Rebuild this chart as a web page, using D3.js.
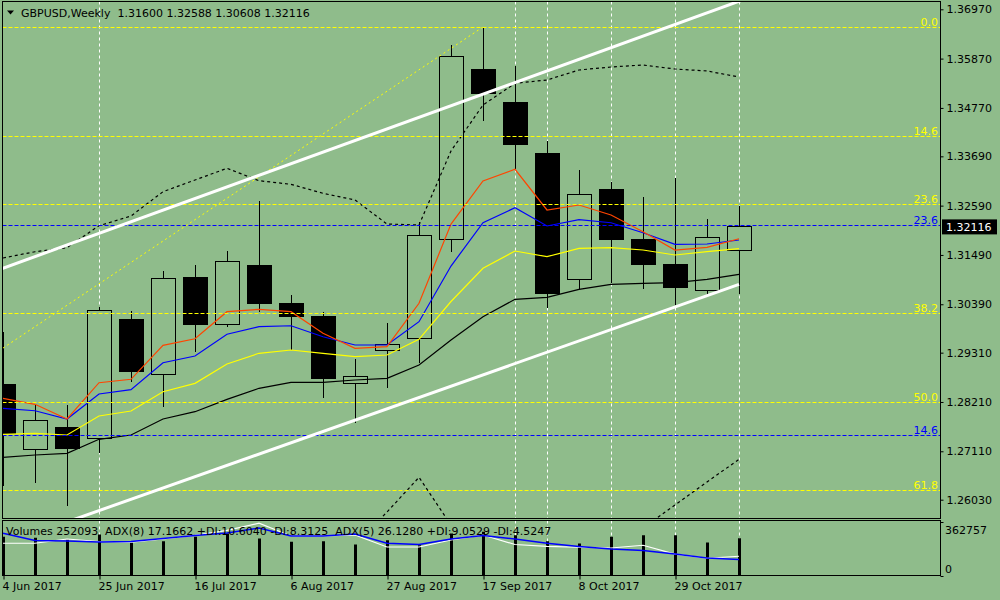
<!DOCTYPE html>
<html>
<head>
<meta charset="utf-8">
<script src="https://cdn.jsdelivr.net/npm/d3@7"></script>
<style>
  body { margin: 0; background: #8fbc8b; }
  svg { display: block; font-family: "DejaVu Sans", sans-serif; font-size: 11px; }
</style>
</head>
<body>
<svg id="chart" width="1000" height="600"></svg>
<script>
// GBPUSD weekly bars, week starting dates
const weeks = ['4 Jun', '11 Jun', '18 Jun', '25 Jun', '2 Jul', '9 Jul', '16 Jul', '23 Jul', '30 Jul', '6 Aug',
  '13 Aug', '20 Aug', '27 Aug', '3 Sep', '10 Sep', '17 Sep', '24 Sep', '1 Oct', '8 Oct', '15 Oct', '22 Oct',
  '29 Oct', '5 Nov', '12 Nov'];
const opens = [1.28611, 1.27154, 1.27645, 1.27400, 1.30061, 1.28827, 1.30998, 1.29943, 1.31244, 1.30418, 1.30128,
  1.28626, 1.29363, 1.29631, 1.31839, 1.35638, 1.34902, 1.33742, 1.30953, 1.32955, 1.31839, 1.31288, 1.30701, 1.31600];
const highs = [1.29772, 1.28145, 1.28145, 1.30329, 1.30240, 1.31132, 1.31266, 1.31578, 1.32693, 1.30597, 1.30210,
  1.29169, 1.29965, 1.32232, 1.36173, 1.36546, 1.35705, 1.34032, 1.33385, 1.33111, 1.32790, 1.33207, 1.32292, 1.32588];
const lows = [1.26336, 1.26404, 1.25896, 1.27065, 1.28662, 1.28105, 1.29332, 1.29889, 1.30224, 1.29370, 1.28306,
  1.27734, 1.28529, 1.29086, 1.31549, 1.34485, 1.33403, 1.30300, 1.30730, 1.30870, 1.30723, 1.30375, 1.30581, 1.30608];
const closes = [1.27496, 1.27801, 1.27168, 1.30255, 1.28885, 1.30969, 1.29934, 1.31348, 1.30403, 1.30112, 1.28729,
  1.28783, 1.29497, 1.31928, 1.35928, 1.35087, 1.33950, 1.30634, 1.32843, 1.31839, 1.31272, 1.30759, 1.31884, 1.32116];

// moving averages (fast -> slow)
const maRed = [1.28292, 1.28158, 1.27830, 1.28640, 1.28716, 1.29474, 1.29621, 1.30224, 1.30277, 1.30224, 1.29742,
  1.29407, 1.29443, 1.30411, 1.32180, 1.33140, 1.33401, 1.32493, 1.32604, 1.32381, 1.32009, 1.31600, 1.31660, 1.31852];
const maBlue = [1.28069, 1.28015, 1.27830, 1.28388, 1.28484, 1.29086, 1.29235, 1.29720, 1.29889, 1.29911, 1.29666,
  1.29481, 1.29481, 1.30001, 1.31243, 1.32209, 1.32544, 1.32136, 1.32276, 1.32209, 1.31986, 1.31727, 1.31734, 1.31823];
const maYellow = [1.27489, 1.27511, 1.27473, 1.27897, 1.28008, 1.28439, 1.28626, 1.29057, 1.29296, 1.29369, 1.29296,
  1.29220, 1.29258, 1.29608, 1.30451, 1.31192, 1.31578, 1.31451, 1.31638, 1.31652, 1.31600, 1.31489, 1.31562, 1.31629];
const maBlack = [1.26976, 1.27027, 1.27065, 1.27377, 1.27473, 1.27830, 1.27993, 1.28269, 1.28515, 1.28649, 1.28649,
  1.28700, 1.28738, 1.29035, 1.29592, 1.30112, 1.30500, 1.30545, 1.30723, 1.30835, 1.30857, 1.30871, 1.30947, 1.31058];
// envelope / band (dashed black)
const bandUpper = [1.31422, 1.31562, 1.31652, 1.32142, 1.32359, 1.32901, 1.33162, 1.33423, 1.33146, 1.33066, 1.32865,
  1.32716, 1.32180, 1.32158, 1.33809, 1.34835, 1.35319, 1.35393, 1.35616, 1.35683, 1.35727, 1.35638, 1.35594, 1.35460];
const bandLower = [1.22900, 1.23123, 1.23346, 1.22900, 1.22900, 1.23123, 1.23123, 1.23346, 1.24015, 1.24350, 1.24640,
  1.25019, 1.25755, 1.26529, 1.25465, 1.25019, 1.24684, 1.24684, 1.24796, 1.25019, 1.25398, 1.25911, 1.26425, 1.26931];

// sub window
const volumes = [261000, 255000, 245000, 277000, 223000, 232000, 261000, 284000, 250000, 228000, 232000, 209000,
  238000, 205000, 284000, 295000, 272000, 232000, 216000, 261000, 272000, 272000, 223000, 252093];
const adxBlue = [38.4, 31.8, 31.4, 30.5, 30.9, 33.6, 36.4, 38.6, 43.2, 35.9, 35.9, 37.7, 29.3, 28.2, 33.2, 36.4,
  33.2, 29.3, 26.4, 24.1, 22.7, 19.5, 15.9, 14.5];
const adxWhite = [29.3, 29.3, 33.2, 30.9, 30.3, 33.2, 36.4, 41.1, 47.5, 35.9, 35.9, 36.8, 25.9, 25.9, 32.3, 36.8,
  28.2, 26.4, 25.7, 25.0, 27.5, 19.4, 15.7, 17.5];

// chart objects
const fibLevels = [0, 14.6, 23.6, 38.2, 50, 61.8, 76.4, 100];
const fibYellowAnchor = [1.36575, 1.19863];   // 0% -> 100%
const fibYellowIdx = [15, -20];
const fibBlueAnchor = [1.19863, 1.71915];
const channelUpper = [[0, 1.31194], [18, 1.35855]];
const channelLower = [[2, 1.25534], [23, 1.30835]];
const markerIdx = [3, 16, 17, 19, 21, 23];

const priceTicks = [1.36970, 1.35870, 1.34770, 1.33690, 1.32590, 1.31490, 1.30390, 1.29310, 1.28210, 1.27110, 1.26030];
const dateTicks = [0, 3, 6, 9, 12, 15, 18, 21];
const volMax = 362757;
const lastPrice = 1.32116;
const headerText = 'GBPUSD,Weekly  1.31600 1.32588 1.30608 1.32116';
const subText = 'Volumes 252093  ADX(8) 17.1662 +DI:10.6040 -DI:8.3125  ADX(5) 26.1280 +DI:9.0529 -DI:4.5247';

const d3 = window.d3;
const svg = d3.select('#chart');
const L = 2.5, R = 940.5, mainTop = 1.5, mainBot = 518.5, volTop = 520.5, volBot = 575.5;

const x = d3.scaleLinear().domain([0, 23]).range([3, 739]);
const y = d3.scaleLinear().domain([1.26030, 1.36970]).range([499.7, 9.3]);
const yv = d3.scaleLinear().domain([0, volMax]).range([volBot, 521.8]);
const ya = d3.scaleLinear().domain([0, 50]).range([volBot, volTop]);
const px = (v) => Math.round(v) + 0.5;

svg.append('rect').attr('width', 1000).attr('height', 600).attr('fill', '#8fbc8b');

const defs = svg.append('defs');
defs.append('clipPath').attr('id', 'clipMain')
  .append('rect').attr('x', L).attr('y', mainTop).attr('width', R - L).attr('height', mainBot - mainTop);
defs.append('clipPath').attr('id', 'clipVol')
  .append('rect').attr('x', L).attr('y', volTop).attr('width', R - L).attr('height', volBot - volTop);

const gMain = svg.append('g').attr('clip-path', 'url(#clipMain)');
const gVol = svg.append('g').attr('clip-path', 'url(#clipVol)');

// vertical dashed markers across both windows
markerIdx.forEach((i) => {
  [[gMain, mainTop, mainBot], [gVol, volTop, volBot]].forEach(([g, t, b]) => {
    g.append('line')
      .attr('x1', px(x(i))).attr('x2', px(x(i))).attr('y1', t).attr('y2', b)
      .attr('stroke', '#fff').attr('stroke-dasharray', '3,3');
  });
});

// candles
const bars = d3.range(weeks.length);
const candle = gMain.selectAll('g.candle').data(bars).join('g').attr('class', 'candle')
  .attr('shape-rendering', 'crispEdges');
candle.append('line')
  .attr('x1', (i) => px(x(i))).attr('x2', (i) => px(x(i)))
  .attr('y1', (i) => y(highs[i])).attr('y2', (i) => y(lows[i]))
  .attr('stroke', '#000');
candle.append('rect')
  .attr('x', (i) => px(x(i)) - 12)
  .attr('width', 24)
  .attr('y', (i) => y(Math.max(opens[i], closes[i])))
  .attr('height', (i) => Math.max(1, Math.abs(y(opens[i]) - y(closes[i]))))
  .attr('fill', (i) => (closes[i] >= opens[i] ? '#8fbc8b' : '#000'))
  .attr('stroke', '#000');

// indicator lines
const line = d3.line().x((d, i) => x(i)).y((d) => y(d));
[[bandUpper, '#000', '3,3'], [bandLower, '#000', '3,3'], [maBlack, '#000', null], [maYellow, '#ffff00', null],
  [maBlue, '#0000ff', null], [maRed, '#ff4500', null]].forEach(([arr, col, dash]) => {
  gMain.append('path').datum(arr).attr('d', line)
    .attr('fill', 'none').attr('stroke', col).attr('stroke-width', 1.2)
    .attr('stroke-dasharray', dash);
});

// fibonacci levels
function drawFib(anchor, colour) {
  fibLevels.forEach((lv) => {
    const p = anchor[0] + (lv / 100) * (anchor[1] - anchor[0]);
    const yy = y(p);
    if (yy < mainTop || yy > mainBot) return;
    gMain.append('line')
      .attr('x1', L).attr('x2', R).attr('y1', px(yy)).attr('y2', px(yy))
      .attr('stroke', colour).attr('stroke-dasharray', '4,2');
    svg.append('text')
      .attr('x', 938).attr('y', px(yy) - 2)
      .attr('text-anchor', 'end').attr('fill', colour)
      .text(lv.toFixed(1));
  });
}
drawFib(fibYellowAnchor, '#ffff00');
drawFib(fibBlueAnchor, '#0000ff');

gMain.append('line')
  .attr('x1', x(fibYellowIdx[1])).attr('y1', y(fibYellowAnchor[1]))
  .attr('x2', x(fibYellowIdx[0])).attr('y2', y(fibYellowAnchor[0]))
  .attr('stroke', '#ffff00').attr('stroke-dasharray', '2,3');

// channel lines (upper one is a ray to the right)
function extend(pts, i) {
  const [[i0, p0], [i1, p1]] = pts;
  return p0 + ((p1 - p0) * (i - i0)) / (i1 - i0);
}
gMain.append('line')
  .attr('x1', x(-2)).attr('y1', y(extend(channelUpper, -2)))
  .attr('x2', x(30)).attr('y2', y(extend(channelUpper, 30)))
  .attr('stroke', '#fff').attr('stroke-width', 3);
gMain.append('line')
  .attr('x1', x(-2)).attr('y1', y(extend(channelLower, -2)))
  .attr('x2', x(channelLower[1][0])).attr('y2', y(channelLower[1][1]))
  .attr('stroke', '#fff').attr('stroke-width', 3);

// sub window: volumes + ADX
gVol.selectAll('line.vol').data(bars).join('line').attr('class', 'vol')
  .attr('x1', (i) => px(x(i))).attr('x2', (i) => px(x(i)))
  .attr('y1', yv(0)).attr('y2', (i) => yv(volumes[i]))
  .attr('stroke', '#000').attr('stroke-width', 3);
const aLine = d3.line().x((d, i) => x(i)).y((d) => ya(d));
gVol.append('path').datum(adxWhite).attr('d', aLine).attr('fill', 'none').attr('stroke', '#fff').attr('stroke-width', 1.2);
gVol.append('path').datum(adxBlue).attr('d', aLine).attr('fill', 'none').attr('stroke', '#0000ff').attr('stroke-width', 1.5);

// frames
[[mainTop, mainBot], [volTop, volBot]].forEach(([t, b]) => {
  svg.append('rect').attr('x', L).attr('y', t).attr('width', R - L).attr('height', b - t)
    .attr('fill', 'none').attr('stroke', '#000').attr('shape-rendering', 'crispEdges');
});

// price axis
const axisR = svg.append('g').attr('transform', `translate(${R},0)`)
  .call(d3.axisRight(y).tickValues(priceTicks).tickFormat(d3.format('.5f')).tickSize(3).tickPadding(3));
axisR.select('.domain').remove();
axisR.selectAll('text').attr('font-family', '"DejaVu Sans", sans-serif').attr('font-size', 11).attr('fill', '#000');
axisR.selectAll('line').attr('stroke', '#000');

// last price marker
svg.append('rect').attr('x', 942).attr('y', y(lastPrice) - 7.5).attr('width', 55).attr('height', 15).attr('fill', '#000');
svg.append('text').attr('x', 946).attr('y', y(lastPrice) + 4).attr('fill', '#fff').text(lastPrice.toFixed(5));

// volume axis labels
[volMax, 0].forEach((v, k) => {
  svg.append('line').attr('x1', R).attr('x2', R + 3).attr('y1', px(yv(v))).attr('y2', px(yv(v))).attr('stroke', '#000');
  svg.append('text').attr('x', 945).attr('y', yv(v) + (k === 0 ? 12 : -3)).attr('fill', '#000').text(v);
});

// time axis
const axisB = svg.append('g').attr('transform', `translate(0,${volBot})`)
  .call(d3.axisBottom(x).tickValues(dateTicks).tickFormat((i) => `${weeks[i]} 2017`).tickSize(4).tickPadding(3));
axisB.select('.domain').remove();
axisB.selectAll('line').attr('stroke', '#000').attr('transform', 'translate(0.5,0)');
axisB.selectAll('text').attr('text-anchor', 'start').attr('dx', -1)
  .attr('font-family', '"DejaVu Sans", sans-serif').attr('font-size', 11).attr('fill', '#000');

// headers
svg.append('path').attr('d', 'M7,10.5 L14,10.5 L10.5,14.5 Z').attr('fill', '#000');
svg.append('text').attr('x', 21).attr('y', 16.5).attr('fill', '#000').attr('xml:space', 'preserve')
  .style('white-space', 'pre').text(headerText);
svg.append('text').attr('x', 6).attr('y', 535).attr('fill', '#000')
  .style('white-space', 'pre').text(subText);
</script>
</body>
</html>
